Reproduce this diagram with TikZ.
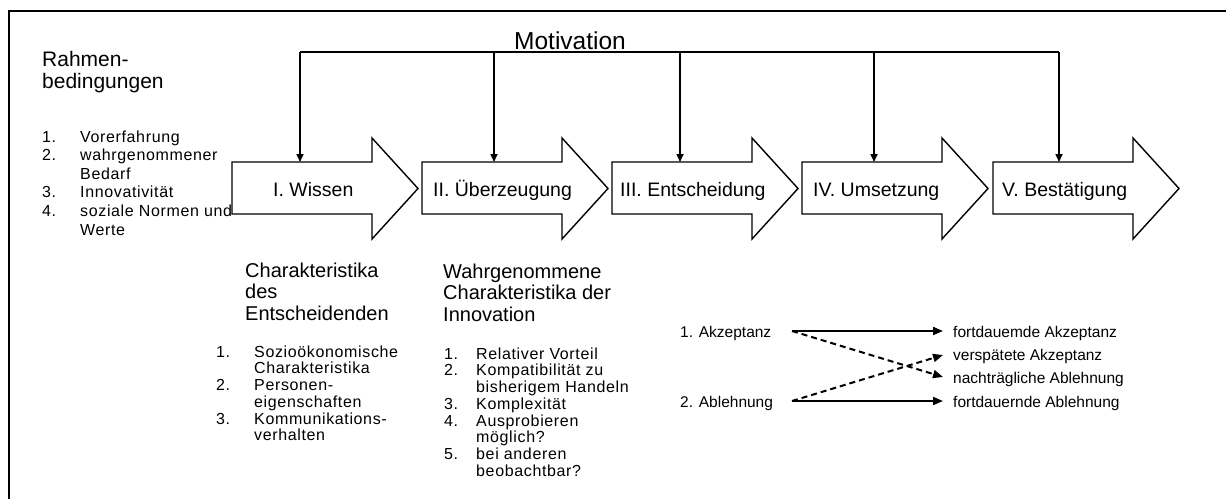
\documentclass[tikz,border=0pt]{standalone}
\usepackage{fontspec}
\setmainfont{Liberation Sans}
\newfontfamily\listfont[LetterSpace=4]{Liberation Sans}
\usetikzlibrary{arrows.meta}

% numbered list helpers
\newlength{\nrw}
\newcommand{\nr}[1]{\makebox[\nrw][l]{#1}}
\newcommand{\lines}[1]{\begin{tabular}[t]{@{}l@{}}#1\end{tabular}}

% one stage of the process: a block arrow with its left edge at #1
\newcommand{\stagearrow}[1]{%
  \draw[stage] (#1,162) -- ++(140,0) -- ++(0,-24) -- ++(46,50.5)
    -- ++(-46,50.5) -- ++(0,-25) -- ++(-140,0) -- cycle;}

\tikzset{
  every node/.style={inner sep=0pt, anchor=base west},
  frame/.style={line width=1.5pt},
  stage/.style={draw, line width=1.4pt, fill=white, line join=miter},
  stagelabel/.style={font=\fontsize{19.5}{22}\selectfont},
  bus/.style={line width=1.6pt},
  drop/.style={line width=1.6pt, -{Triangle[length=8pt,width=7pt]}},
  headtext/.style={font=\fontsize{20}{21.5}\selectfont},
  listtext/.style={font=\listfont\fontsize{16}{16.75}\selectfont},
  outtext/.style={font=\fontsize{15.5}{18}\selectfont},
  keep/.style={line width=2pt, -{Triangle[length=10pt,width=8pt]}},
  change/.style={keep, dash pattern=on 6pt off 4pt},
}

\begin{document}
\begin{tikzpicture}[x=1pt,y=-1pt]
\useasboundingbox (0,0) rectangle (1226,499);

% frame
\draw[frame] (9,499) -- (9,11) -- (1226,11);

% framework conditions
\node[font=\fontsize{21}{22}\selectfont] (rb) at (42,66) {\lines{Rahmen-\\bedingungen}};
\node[listtext, font=\listfont\fontsize{16}{18.6}\selectfont] (rblist) at (42,142)
  {\setlength{\nrw}{38pt}\lines{\nr{1.}Vorerfahrung\\ \nr{2.}wahrgenommener\\ \nr{}Bedarf\\
   \nr{3.}Innovativität\\ \nr{4.}soziale Normen und\\ \nr{}Werte}};

% characteristics of the decision maker
\node[headtext] (ch) at (245,277) {\lines{Charakteristika\\des\\Entscheidenden}};
\node[listtext] (chlist) at (216,357)
  {\setlength{\nrw}{38pt}\lines{\nr{1.}Sozioökonomische\\ \nr{}Charakteristika\\ \nr{2.}Personen-\\
   \nr{}eigenschaften\\ \nr{3.}Kommunikations-\\ \nr{}verhalten}};

% perceived characteristics of the innovation
\node[headtext] (in) at (443,278) {\lines{Wahrgenommene\\Charakteristika der\\Innovation}};
\node[listtext] (inlist) at (444,359)
  {\setlength{\nrw}{32pt}\lines{\nr{1.}Relativer Vorteil\\ \nr{2.}Kompatibilität zu\\ \nr{}bisherigem Handeln\\
   \nr{3.}Komplexität\\ \nr{4.}Ausprobieren\\ \nr{}möglich?\\ \nr{5.}bei anderen\\ \nr{}beobachtbar?}};

% the five stages
\stagearrow{232}
\stagearrow{422}
\stagearrow{612}
\stagearrow{802}
\stagearrow{993}
\node[stagelabel] (st1) at (273,196) {I. Wissen};
\node[stagelabel] (st2) at (433,196) {II. Überzeugung};
\node[stagelabel] (st3) at (620,196) {III. Entscheidung};
\node[stagelabel] (st4) at (813,196) {IV. Umsetzung};
\node[stagelabel] (st5) at (1002,196) {V. Bestätigung};

% motivation feeding every stage
\node[font=\fontsize{24.5}{26}\selectfont] (mot) at (514,49) {Motivation};
\coordinate (b1) at (300,52);
\coordinate (b2) at (494,52);
\coordinate (b3) at (680,52);
\coordinate (b4) at (874,52);
\coordinate (b5) at (1059,52);
\coordinate (s1) at (300,162);
\coordinate (s2) at (494,162);
\coordinate (s3) at (680,162);
\coordinate (s4) at (874,162);
\coordinate (s5) at (1059,162);
\draw[bus] (b1) -- (b5);
\foreach \i in {1,...,5} \draw[drop] (b\i) -- (s\i);

% outcomes of the decision
\node[outtext] (acc) at (680,337) {1. Akzeptanz};
\node[outtext] (rej) at (680,407) {2. Ablehnung};
\node[outtext] (o1) at (953,337) {fortdauemde Akzeptanz};
\node[outtext] (o2) at (953,360) {verspätete Akzeptanz};
\node[outtext] (o3) at (953,383) {nachträgliche Ablehnung};
\node[outtext] (o4) at (953,407) {fortdauernde Ablehnung};
\coordinate (accout) at (792,331);
\coordinate (rejout) at (792,401);
\coordinate (to1) at (943,331);
\coordinate (to2) at (943,355);
\coordinate (to3) at (943,377);
\coordinate (to4) at (943,401);
\draw[keep] (accout) -- (to1);
\draw[keep] (rejout) -- (to4);
\draw[change] (accout) -- (to3);
\draw[change] (rejout) -- (to2);
\end{tikzpicture}
\end{document}
